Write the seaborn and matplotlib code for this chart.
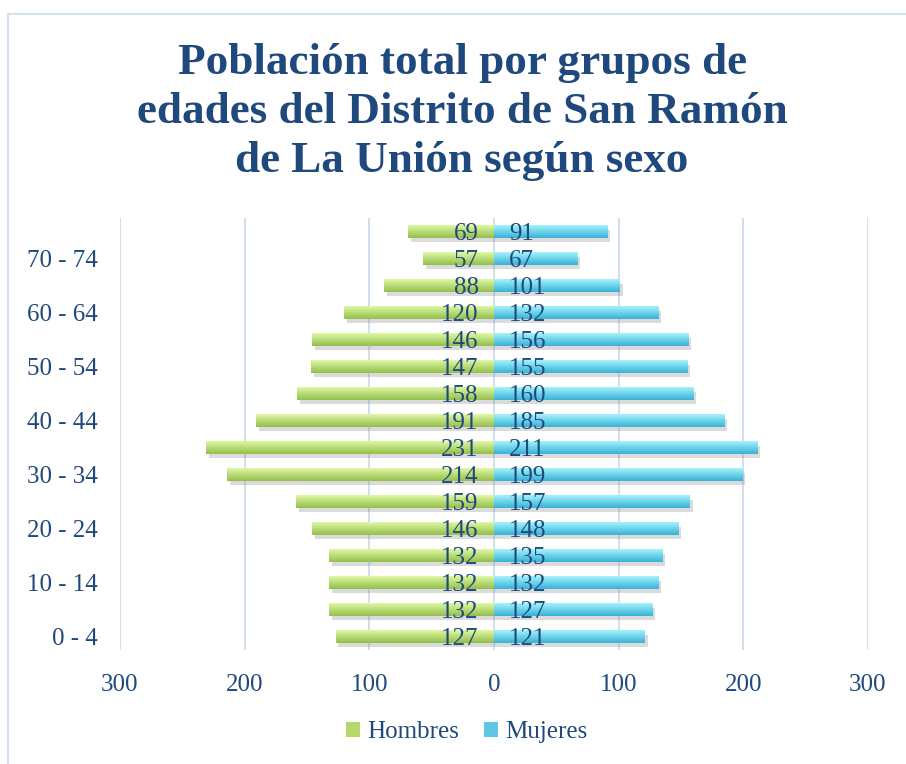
import numpy as np
import pandas as pd
import matplotlib
matplotlib.use("Agg")
import matplotlib.pyplot as plt
import matplotlib.patheffects as pe
from matplotlib.patches import Patch, Rectangle
import seaborn as sns

# ---- data (bottom to top) ----
ages = ["0 - 4", "5 - 9", "10 - 14", "15 - 19", "20 - 24", "25 - 29", "30 - 34",
        "35 - 39", "40 - 44", "45 - 49", "50 - 54", "55 - 59", "60 - 64",
        "65 - 69", "70 - 74", "75 y más"]
hombres = [127, 132, 132, 132, 146, 159, 214, 231, 191, 158, 147, 146, 120, 88, 57, 69]
mujeres = [121, 127, 132, 135, 148, 157, 199, 211, 185, 160, 155, 156, 132, 101, 67, 91]
xticks = [-300, -200, -100, 0, 100, 200, 300]
title = "Población total por grupos de\nedades del Distrito de San Ramón\nde La Unión según sexo"

sns.set_theme(style="white")
plt.rcParams["font.family"] = ["Liberation Serif", "DejaVu Serif"]

TXT = "#1F497D"
GREEN = "#b5d86a"
CYAN = "#5cc8e6"

df = pd.DataFrame({
    "age": ages * 2,
    "value": [-v for v in hombres] + mujeres,
    "sexo": ["Hombres"] * len(ages) + ["Mujeres"] * len(ages),
})

fig = plt.figure(figsize=(9.06, 7.64), dpi=100)
ax = fig.add_axes([120 / 906, 1 - 650 / 764, 748 / 906, 432 / 764])

order = ages[::-1]
sns.barplot(data=df, x="value", y="age", hue="sexo", order=order,
            hue_order=["Hombres", "Mujeres"], dodge=False, orient="h",
            palette={"Hombres": GREEN, "Mujeres": CYAN}, width=0.45,
            ax=ax, legend=False, saturation=1)

grads = {
    "Hombres": (np.array([0.87, 0.97, 0.64]), np.array([0.58, 0.75, 0.30])),
    "Mujeres": (np.array([0.64, 0.95, 0.99]), np.array([0.22, 0.70, 0.84])),
}

bars = [p for p in ax.patches if isinstance(p, Rectangle) and p.get_height() > 0]
for p in bars:
    w = p.get_width()
    key = "Hombres" if w < 0 else "Mujeres"
    top, bot = grads[key]
    t = np.linspace(0, 1, 32)[:, None]
    rgb = top[None, :] * (1 - t) + bot[None, :] * t
    img = rgb[:, None, :].repeat(2, axis=1)
    x0 = p.get_x()
    x1 = x0 + w
    y0 = p.get_y()
    y1 = y0 + p.get_height()
    p.set_edgecolor("none")
    p.set_path_effects([pe.SimplePatchShadow(offset=(2, -3), shadow_rgbFace="#888888", alpha=0.3),
                        pe.Normal()])
    im = ax.imshow(img, extent=(min(x0, x1), max(x0, x1), y1, y0), origin="upper",
                   aspect="auto", zorder=p.get_zorder() + 0.1, interpolation="bilinear")
    im.set_clip_path(p)

ax.set_xlim(-300, 300)
ax.set_ylim(len(ages) - 0.5, -0.5)

# value labels
for i, a in enumerate(order):
    k = ages.index(a)
    ax.annotate(str(hombres[k]), xy=(0, i), xytext=(-11, 0), textcoords="offset points",
                ha="right", va="center_baseline", fontsize=18, color=TXT, zorder=10)
    ax.annotate(str(mujeres[k]), xy=(0, i), xytext=(11, 0), textcoords="offset points",
                ha="left", va="center_baseline", fontsize=18, color=TXT, zorder=10)

ax.set_xticks(xticks)
ax.set_xticklabels([str(abs(v)) for v in xticks])
ax.set_yticks(range(len(order)))
ax.set_yticklabels([a if (ages.index(a) % 2 == 0) else "" for a in order])
ax.tick_params(axis="x", length=0, pad=17, labelsize=18, labelcolor=TXT)
ax.tick_params(axis="y", length=0, pad=16, labelsize=18, labelcolor=TXT)
ax.set_xlabel("")
ax.set_ylabel("")
ax.grid(axis="x", color="#cddcef", linewidth=1.3)
ax.grid(axis="y", visible=False)
ax.set_axisbelow(True)
for s in ax.spines.values():
    s.set_visible(False)

fig.text(0.51, 1 - 112 / 764, title, ha="center", va="center", fontsize=32.5,
         fontweight="bold", color=TXT, linespacing=1.28)

handles = [Patch(facecolor=GREEN, edgecolor="none", label="Hombres"),
           Patch(facecolor=CYAN, edgecolor="none", label="Mujeres")]
fig.legend(handles=handles, loc="center", bbox_to_anchor=(0.515, 1 - 732 / 764), ncol=2,
           frameon=False, fontsize=18, labelcolor=TXT, handlelength=0.55, handleheight=0.55,
           handletextpad=0.3, columnspacing=1.0)

fig.patches.append(Rectangle((8 / 906, -0.1), 1.2, 1.1 - 14 / 764, transform=fig.transFigure,
                             facecolor="none", edgecolor="#d3e1f1", linewidth=1.5))

fig.savefig("out.png", dpi=100)
